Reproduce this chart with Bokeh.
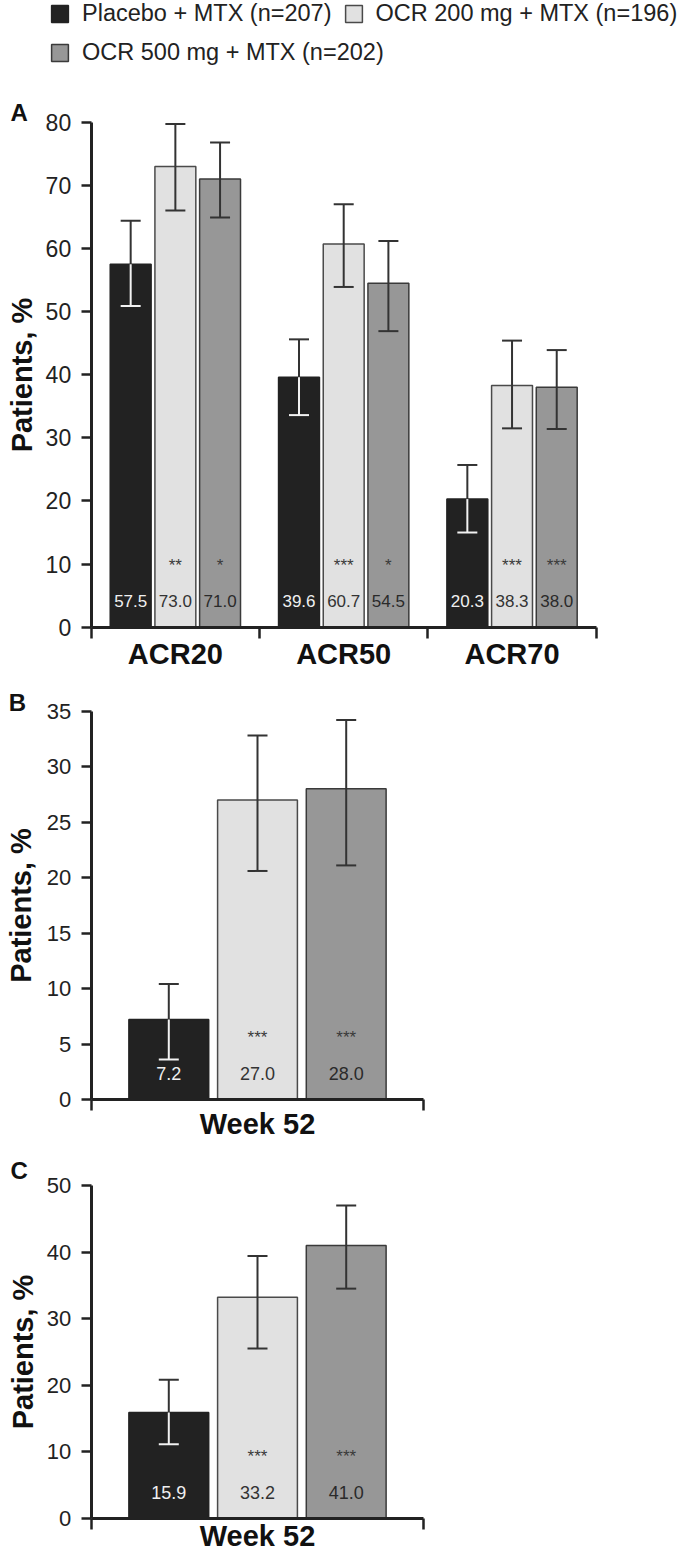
import numpy as np
from bokeh.plotting import figure
from bokeh.models import (Range1d, FixedTicker, Legend, LegendItem, ColumnDataSource,
                          Label)
from bokeh.layouts import column
from bokeh.embed import file_html
from bokeh.resources import INLINE
from bokeh.core.properties import value

FONT = "Liberation Sans"

# ---------------- data ----------------
series = ["Placebo + MTX (n=207)", "OCR 200 mg + MTX (n=196)", "OCR 500 mg + MTX (n=202)"]

# Panel A: ACR responses
acr_categories = ["ACR20", "ACR50", "ACR70"]
acr_placebo = [57.5, 39.6, 20.3]
acr_ocr200 = [73.0, 60.7, 38.3]
acr_ocr500 = [71.0, 54.5, 38.0]
acr_placebo_lo = [50.9, 33.6, 15.0]
acr_placebo_hi = [64.4, 45.6, 25.7]
acr_ocr200_lo = [66.0, 53.9, 31.5]
acr_ocr200_hi = [79.7, 67.0, 45.4]
acr_ocr500_lo = [64.9, 46.9, 31.4]
acr_ocr500_hi = [76.8, 61.2, 43.9]
acr_sig_placebo = ["", "", ""]
acr_sig_ocr200 = ["**", "***", "***"]
acr_sig_ocr500 = ["*", "*", "***"]
acr_yticks = [0, 10, 20, 30, 40, 50, 60, 70, 80]

# Panel B
b_categories = ["Week 52"]
b_placebo, b_ocr200, b_ocr500 = [7.2], [27.0], [28.0]
b_placebo_lo, b_ocr200_lo, b_ocr500_lo = [3.6], [20.6], [21.1]
b_placebo_hi, b_ocr200_hi, b_ocr500_hi = [10.4], [32.8], [34.2]
b_sig_placebo, b_sig_ocr200, b_sig_ocr500 = [""], ["***"], ["***"]
b_yticks = [0, 5, 10, 15, 20, 25, 30, 35]

# Panel C
c_categories = ["Week 52"]
c_placebo, c_ocr200, c_ocr500 = [15.9], [33.2], [41.0]
c_placebo_lo, c_ocr200_lo, c_ocr500_lo = [11.1], [25.5], [34.5]
c_placebo_hi, c_ocr200_hi, c_ocr500_hi = [20.8], [39.4], [47.0]
c_sig_placebo, c_sig_ocr200, c_sig_ocr500 = [""], ["***"], ["***"]
c_yticks = [0, 10, 20, 30, 40, 50]

# ---------------- styles ----------------
fill_colors = ["#222222", "#e1e1e1", "#979797"]
line_colors = ["#222222", "#4a4a4a", "#3a3a3a"]
inner_colors = ["#f2f2f2", "#333333", "#333333"]
text_colors = ["#f0f0f0", "#333333", "#2a2a2a"]
AXIS = "#222222"


def make_panel(letter, letter_xy, categories, vals, los, his, sigs, yticks,
               width, height, ax_left, ax_right, ax_bottom, ax_top,
               bar_w, pitch, cap, tick_fs, val_fs, label_y, star_y,
               xlab_standoff, ylab_standoff):
    """Frame covers the whole canvas; axes are pinned at the data origin."""
    n = len(categories)
    ymax = yticks[-1]
    kx = (ax_right - ax_left) / n           # px per category
    ky = (ax_bottom - ax_top) / ymax        # px per percent
    x0 = -0.5 - ax_left / kx
    y0 = -(height - ax_bottom) / ky
    p = figure(width=width, height=height,
               x_range=Range1d(x0, x0 + width / kx),
               y_range=Range1d(y0, y0 + height / ky),
               output_backend="svg", toolbar_location=None, tools="",
               title_location=None, min_border=0)
    p.outline_line_color = None
    p.grid.visible = False
    p.background_fill_color = "white"
    p.border_fill_color = "white"

    bars = []
    for s in range(3):
        xs = np.arange(n) + (s - 1) * pitch
        src = ColumnDataSource(dict(x=xs, top=vals[s], lo=los[s], hi=his[s],
                                    label=[f"{v:.1f}" for v in vals[s]], sig=sigs[s]))
        bars.append(p.vbar(x="x", top="top", bottom=0, width=bar_w, source=src,
                           fill_color=fill_colors[s], line_color=line_colors[s],
                           line_width=1.5))
        p.segment(x0="x", y0="top", x1="x", y1="hi", source=src,
                  line_color="#333333", line_width=2)
        p.segment(x0="x", y0="lo", x1="x", y1="top", source=src,
                  line_color=inner_colors[s], line_width=2)
        p.scatter(x="x", y="hi", marker="dash", size=cap, source=src,
                  line_color="#333333", line_width=2)
        p.scatter(x="x", y="lo", marker="dash", size=cap, source=src,
                  line_color=inner_colors[s], line_width=2)
        p.text(x="x", y=label_y, text="label", source=src, text_align="center",
               text_baseline="middle", text_font=value(FONT),
               text_font_size=value(f"{val_fs}px"), text_color=text_colors[s])
        p.text(x="x", y=star_y, text="sig", source=src, text_align="center",
               text_baseline="middle", text_font=value(FONT),
               text_font_size=value("17px"), text_color="#3a3a3a")

    xa = p.xaxis[0]
    xa.fixed_location = 0
    xa.bounds = (-0.5, n - 0.5)
    xa.ticker = FixedTicker(ticks=list(range(n)),
                            minor_ticks=list(np.arange(n + 1) - 0.5))
    xa.major_label_overrides = {i: c for i, c in enumerate(categories)}
    xa.major_tick_line_color = None
    xa.major_tick_out = 0
    xa.major_tick_in = 0
    xa.minor_tick_out = 11
    xa.minor_tick_in = 0
    xa.minor_tick_line_width = 2.5
    xa.minor_tick_line_color = AXIS
    xa.axis_line_width = 3
    xa.axis_line_color = AXIS
    xa.major_label_text_font = FONT
    xa.major_label_text_font_size = "29px"
    xa.major_label_text_font_style = "bold"
    xa.major_label_text_color = "#111111"
    xa.major_label_standoff = xlab_standoff

    ya = p.yaxis[0]
    ya.fixed_location = -0.5
    ya.bounds = (0, ymax)
    ya.ticker = FixedTicker(ticks=yticks, minor_ticks=[])
    ya.axis_line_width = 3
    ya.axis_line_color = AXIS
    ya.major_tick_line_width = 2.5
    ya.major_tick_line_color = AXIS
    ya.major_tick_out = 10
    ya.major_tick_in = 0
    ya.minor_tick_line_color = None
    ya.major_label_text_font = FONT
    ya.major_label_text_font_size = f"{tick_fs}px"
    ya.major_label_text_color = "#222222"
    ya.major_label_standoff = 10
    ya.axis_label = "Patients, %"
    ya.axis_label_text_font = FONT
    ya.axis_label_text_font_size = "29px"
    ya.axis_label_text_font_style = "bold"
    ya.axis_label_text_color = "#111111"
    ya.axis_label_standoff = ylab_standoff

    p.add_layout(Label(x=letter_xy[0], y=height - letter_xy[1], x_units="screen",
                       y_units="screen", text=letter, text_font=FONT,
                       text_font_size="24px", text_font_style="bold",
                       text_color="#111111", text_baseline="alphabetic"))
    return p, bars


HA, HB, HC = 675, 468, 413
pA, barsA = make_panel("A", (10, 111.7), acr_categories,
                       [acr_placebo, acr_ocr200, acr_ocr500],
                       [acr_placebo_lo, acr_ocr200_lo, acr_ocr500_lo],
                       [acr_placebo_hi, acr_ocr200_hi, acr_ocr500_hi],
                       [acr_sig_placebo, acr_sig_ocr200, acr_sig_ocr500],
                       acr_yticks, width=682, height=HA,
                       ax_left=90.7, ax_right=595.7, ax_bottom=626.7, ax_top=121.7,
                       bar_w=0.243, pitch=0.2655, cap=20, tick_fs=23, val_fs=17,
                       label_y=4.1, star_y=9.8, xlab_standoff=0, ylab_standoff=5)

pB, _ = make_panel("B", (8.3, 26.7), b_categories,
                   [b_placebo, b_ocr200, b_ocr500],
                   [b_placebo_lo, b_ocr200_lo, b_ocr500_lo],
                   [b_placebo_hi, b_ocr200_hi, b_ocr500_hi],
                   [b_sig_placebo, b_sig_ocr200, b_sig_ocr500],
                   b_yticks, width=440, height=HB,
                   ax_left=90.7, ax_right=423.3, ax_bottom=424.0, ax_top=35.7,
                   bar_w=0.24, pitch=0.2667, cap=20, tick_fs=22, val_fs=18,
                   label_y=2.3, star_y=5.6, xlab_standoff=-3, ylab_standoff=7)

pC, _ = make_panel("C", (10, 27), c_categories,
                   [c_placebo, c_ocr200, c_ocr500],
                   [c_placebo_lo, c_ocr200_lo, c_ocr500_lo],
                   [c_placebo_hi, c_ocr200_hi, c_ocr500_hi],
                   [c_sig_placebo, c_sig_ocr200, c_sig_ocr500],
                   c_yticks, width=440, height=HC,
                   ax_left=90.7, ax_right=423.3, ax_bottom=374.7, ax_top=42.0,
                   bar_w=0.24, pitch=0.2667, cap=20, tick_fs=22, val_fs=18,
                   label_y=3.9, star_y=9.3, xlab_standoff=-9, ylab_standoff=5)


# ---------------- legend (uses panel A bars, inside panel A's frame) ----------------
def make_legend(idx, top_px):
    return Legend(items=[LegendItem(label=value(series[i]), renderers=[barsA[i]]) for i in idx],
                  orientation="horizontal", location=(49, HA - top_px - 30),
                  padding=0, margin=0, spacing=11, label_standoff=12,
                  glyph_width=21, glyph_height=21, label_height=21,
                  label_text_font=FONT, label_text_font_size="23.5px",
                  label_text_color="#222222", border_line_color=None,
                  background_fill_alpha=0)


pA.add_layout(make_legend([0, 1], -3.3))
pA.add_layout(make_legend([2], 36))

layout = column(pA, pB, pC, spacing=0)
open("out.html", "w").write(file_html(layout, INLINE))
